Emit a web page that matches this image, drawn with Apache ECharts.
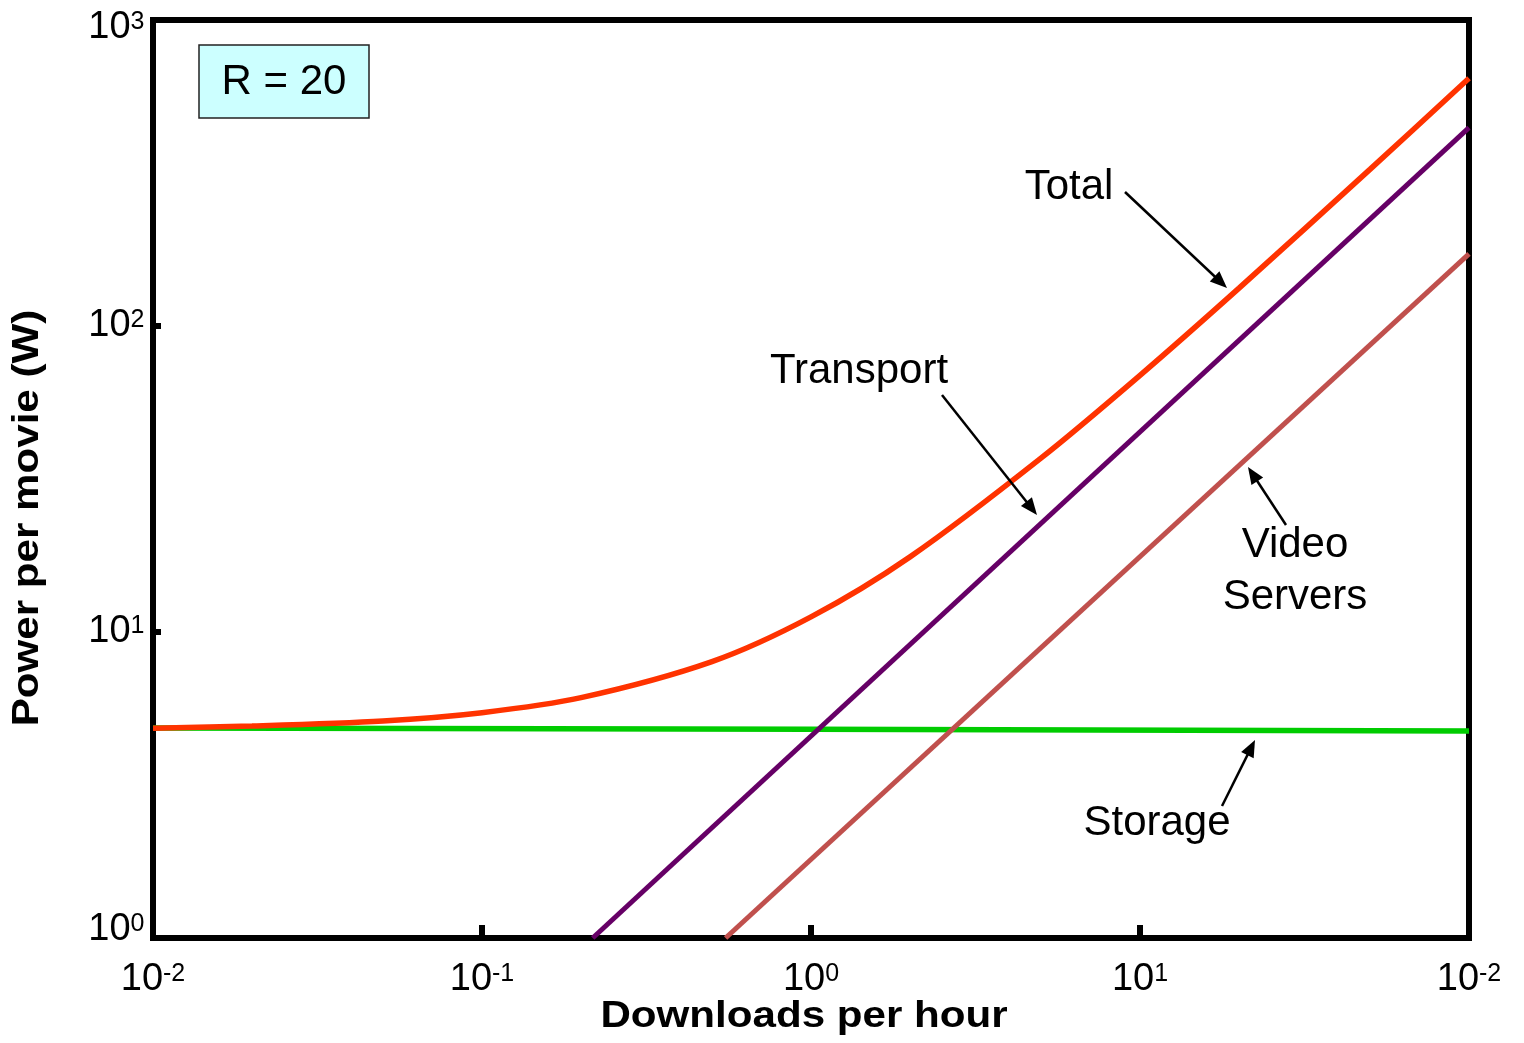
<!DOCTYPE html>
<html>
<head>
<meta charset="utf-8">
<script src="https://cdn.jsdelivr.net/npm/echarts@6/dist/echarts.min.js"></script>
<style>
  html, body { margin: 0; padding: 0; background: #fff; }
  #chart { width: 1524px; height: 1043px; }
</style>
</head>
<body>
<div id="chart"></div>
<script>
// Power per movie (W) against downloads per hour, log-log, R = 20
const totalDownloads = [0.01, 0.02, 0.05, 0.1, 0.2, 0.5, 1, 2, 5, 10, 20, 50, 100];
const totalPower     = [4.85, 4.93, 5.12, 5.45, 6.1, 8.0, 11.2, 17.6, 37, 69, 133, 325, 645];

const storageDownloads = [0.01, 1, 100];
const storagePower     = [4.86, 4.81, 4.75];

const transportDownloads = [0.217, 100];
const transportPower     = [1, 445];

const serverDownloads = [0.55, 100];
const serverPower     = [1, 172];

// decade ticks and the exponent printed after "10" (the last x tick reads 10^-2)
const xTickValues    = [0.01, 0.1, 1, 10, 100];
const xTickExponents = ['-2', '-1', '0', '1', '-2'];
const yTickValues    = [1, 10, 100, 1000];
const yTickExponents = ['0', '1', '2', '3'];

const FONT = "'Liberation Sans', Arial, Helvetica, sans-serif";
const BASE_SIZE = 38;   // "10"
const EXP_SIZE = 25;    // exponent

function pairs(xs, ys) {
  return xs.map((x, i) => [x, ys[i]]);
}

const measureCtx = document.createElement('canvas').getContext('2d');
function textWidth(text, size) {
  measureCtx.font = size + 'px ' + FONT;
  return measureCtx.measureText(text).width;
}

function arrow(x1, y1, x2, y2) {
  const dx = x2 - x1, dy = y2 - y1;
  const len = Math.hypot(dx, dy);
  const ux = dx / len, uy = dy / len;
  const hl = 17, hw = 7;
  const bx = x2 - ux * hl, by = y2 - uy * hl;
  return [
    { type: 'line', z: 100, shape: { x1: x1, y1: y1, x2: bx + ux * 2, y2: by + uy * 2 },
      style: { stroke: '#000', lineWidth: 2.5 } },
    { type: 'polygon', z: 100,
      shape: { points: [[x2, y2], [bx - uy * hw, by + ux * hw], [bx + uy * hw, by - ux * hw]] },
      style: { fill: '#000' } }
  ];
}

function label(text, x, y, size, opts) {
  opts = opts || {};
  const align = opts.align || 'center';
  const el = {
    type: 'text', z: 100, x: x, y: y,
    style: {
      text: text, fill: '#000', fontFamily: FONT, fontSize: size,
      fontWeight: opts.bold ? 'bold' : 'normal',
      textAlign: align, textVerticalAlign: 'middle',
      align: align, verticalAlign: 'middle'
    }
  };
  if (opts.rotation) el.rotation = opts.rotation;
  if (opts.scaleX) el.scaleX = opts.scaleX;
  return el;
}

// a power-of-ten tick label: "10" plus a raised exponent whose top lines up with the digits
function powerLabel(exp, left, digitCenterY) {
  const wb = textWidth('10', BASE_SIZE);
  const digitTop = digitCenterY - 0.358 * BASE_SIZE;
  const expCenter = digitTop + 0.358 * EXP_SIZE;
  return [
    label('10', left, digitCenterY + 0.048 * BASE_SIZE, BASE_SIZE, { align: 'left' }),
    label(exp, left + wb, expCenter + 0.048 * EXP_SIZE, EXP_SIZE, { align: 'left' })
  ];
}

const chart = echarts.init(document.getElementById('chart'), null, { renderer: 'canvas' });

chart.setOption({
  animation: false,
  backgroundColor: '#fff',
  grid: {
    left: 153, right: 55, top: 20, bottom: 105,
    outerBoundsMode: 'none',
    show: true, borderColor: '#000', borderWidth: 6, backgroundColor: 'transparent'
  },
  xAxis: {
    type: 'log', logBase: 10, min: 0.01, max: 100,
    axisLine: { show: false },
    axisTick: { show: true, inside: true, length: 13, lineStyle: { color: '#000', width: 6 } },
    splitLine: { show: false },
    axisLabel: { show: false }
  },
  yAxis: {
    type: 'log', logBase: 10, min: 1, max: 1000,
    axisLine: { show: false },
    axisTick: { show: true, inside: true, length: 8, lineStyle: { color: '#000', width: 6 } },
    splitLine: { show: false },
    axisLabel: { show: false }
  },
  series: [
    {
      name: 'Storage', type: 'line', data: pairs(storageDownloads, storagePower),
      showSymbol: false, clip: true, lineStyle: { color: '#00cc00', width: 5.5 }
    },
    {
      name: 'Transport', type: 'line', data: pairs(transportDownloads, transportPower),
      showSymbol: false, clip: true, lineStyle: { color: '#660066', width: 5 }
    },
    {
      name: 'Video Servers', type: 'line', data: pairs(serverDownloads, serverPower),
      showSymbol: false, clip: true, lineStyle: { color: '#c0504d', width: 5 }
    },
    {
      name: 'Total', type: 'line', data: pairs(totalDownloads, totalPower),
      showSymbol: false, clip: true, smooth: 0.3, lineStyle: { color: '#ff3300', width: 5.5 }
    }
  ]
});

// tick labels placed from the axes' own scales
const axisBottom = chart.convertToPixel({ yAxisIndex: 0 }, yTickValues[0]);
const axisLeft = chart.convertToPixel({ xAxisIndex: 0 }, xTickValues[0]);
const tickLabels = [];
xTickValues.forEach((v, i) => {
  const px = chart.convertToPixel({ xAxisIndex: 0 }, v);
  const w = textWidth('10', BASE_SIZE) + textWidth(xTickExponents[i], EXP_SIZE);
  tickLabels.push(...powerLabel(xTickExponents[i], px - w / 2, axisBottom + 39.5));
});
const yLabelShift = [-10, -2, -2, 5.5];
yTickValues.forEach((v, i) => {
  const py = chart.convertToPixel({ yAxisIndex: 0 }, v);
  const w = textWidth('10', BASE_SIZE) + textWidth(yTickExponents[i], EXP_SIZE);
  tickLabels.push(...powerLabel(yTickExponents[i], axisLeft - 8.5 - w, py + yLabelShift[i]));
});

chart.setOption({
  graphic: [
    ...tickLabels,

    // parameter box
    { type: 'rect', z: 100, shape: { x: 199, y: 45, width: 170, height: 73 },
      style: { fill: '#ccffff', stroke: '#222', lineWidth: 1.5 } },
    label('R = 20', 284, 82, 42),

    // axis titles
    label('Downloads per hour', 804, 1017, 36, { bold: true, scaleX: 1.17 }),
    label('Power per movie (W)', 28, 518, 36, { bold: true, rotation: Math.PI / 2, scaleX: 1.17 }),

    // series call-outs
    label('Total', 1069, 187, 42),
    ...arrow(1125, 192, 1227, 288),
    label('Transport', 859, 371, 42),
    ...arrow(942, 395, 1037, 515),
    label('Video', 1295, 545, 42),
    label('Servers', 1295, 597, 42),
    ...arrow(1286, 525, 1248, 467),
    label('Storage', 1157, 823, 42),
    ...arrow(1222, 806, 1255, 740)
  ]
});
</script>
</body>
</html>
